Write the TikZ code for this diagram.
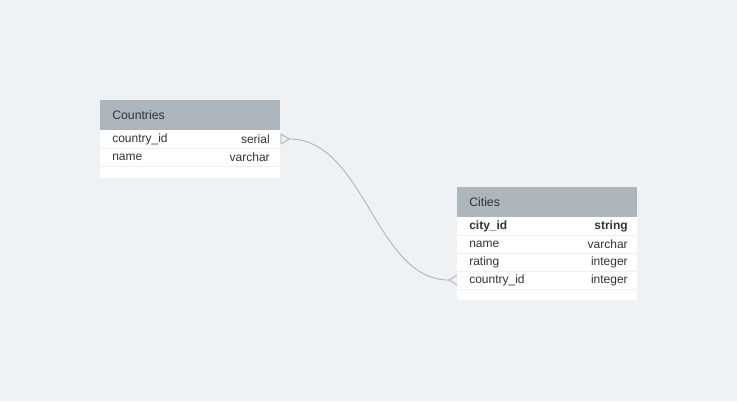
\documentclass[tikz,border=0pt]{standalone}
\usepackage{fontspec}
\setmainfont{Liberation Sans}
\definecolor{canvas}{HTML}{EEF2F5}
\definecolor{headgray}{HTML}{ADB5BD}
\definecolor{ink}{HTML}{333333}
\definecolor{rowrule}{HTML}{EDF0F3}
\definecolor{link}{HTML}{A9AFB6}

\begin{document}
\begin{tikzpicture}[x=0.75pt, y=-0.75pt]
\tikzstyle{header} = [rectangle, fill = headgray, anchor = north west, inner sep = 0, minimum width = 135pt, minimum height = 22.5pt]
\tikzstyle{body} = [rectangle, fill = white, anchor = north west, inner sep = 0, minimum width = 135pt]
\tikzstyle{title} = [anchor = west, inner sep = 0, text = ink, font = \fontsize{9.2}{10}\selectfont]
\tikzstyle{field} = [anchor = west, inner sep = 0, text = ink, font = \fontsize{9}{10}\selectfont]
\tikzstyle{type} = [anchor = east, inner sep = 0, text = ink, font = \fontsize{9}{10}\selectfont]
\tikzstyle{edge} = [draw = link, line width = 0.6pt]
\useasboundingbox[fill = canvas] (0, 0) rectangle (737, 401);
% Countries
\node[body, minimum height = 36pt] (cbody) at (100, 130) {};
\node[header] (countries) at (100, 100) {};
\node[title] (ctitle) at (112, 115) {Countries};
\draw[rowrule, line width = 0.75pt] (100, 148) -- (280, 148);
\draw[rowrule, line width = 0.75pt] (100, 166) -- (280, 166);
\node[field] (cid) at (112, 139) {country\_id};
\node[type] (cidt) at (270, 139) {serial};
\node[field] (cname) at (112, 157) {name};
\node[type] (cnamet) at (270, 157) {varchar};
% Cities
\node[body, minimum height = 63pt] (tbody) at (457, 216) {};
\node[header] (cities) at (457, 187) {};
\node[title] (ttitle) at (469, 202) {Cities};
\foreach \y in {235, 253, 271, 289}
  \draw[rowrule, line width = 0.75pt] (457, \y) -- (637, \y);
\node[field, font = \fontsize{9}{10}\selectfont\bfseries] (tid) at (469, 226) {city\_id};
\node[type, font = \fontsize{9}{10}\selectfont\bfseries] (tidt) at (628, 226) {string};
\node[field] (tname) at (469, 244) {name};
\node[type] (tnamet) at (628, 244) {varchar};
\node[field] (trating) at (469, 262) {rating};
\node[type] (tratingt) at (628, 262) {integer};
\node[field] (tcid) at (469, 280) {country\_id};
\node[type] (tcidt) at (628, 280) {integer};
% relation
\coordinate (cfoot) at (289, 139);
\coordinate (tfoot) at (449, 280);
\draw[edge] (281, 134) -- (cfoot) -- (281, 144) -- cycle;
\draw[edge] (457, 275) -- (tfoot) -- (457, 285);
\draw[edge] (cfoot) .. controls (365, 139) and (375, 280) .. (tfoot);
\end{tikzpicture}
\end{document}
